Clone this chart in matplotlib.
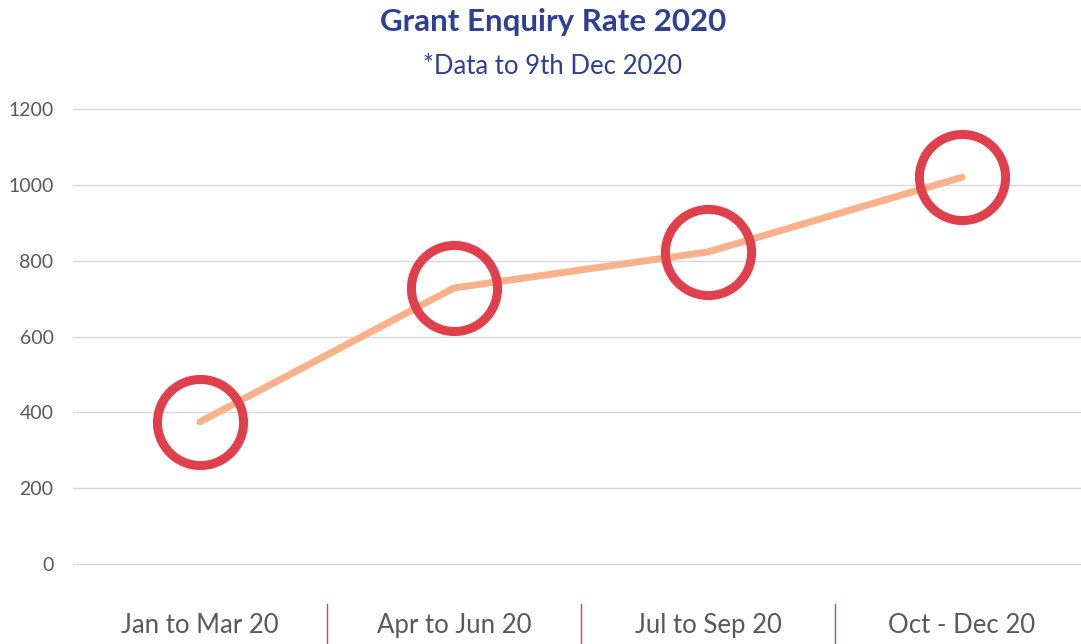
import matplotlib.pyplot as plt
from matplotlib.transforms import blended_transform_factory

# Data
quarters = ["Jan to Mar 20", "Apr to Jun 20", "Jul to Sep 20", "Oct - Dec 20"]
enquiries = [375, 728, 823, 1020]
y_ticks = [0, 200, 400, 600, 800, 1000, 1200]

plt.rcParams["font.family"] = ["Lato", "DejaVu Sans"]

W, H = 1081, 644
fig = plt.figure(figsize=(W / 100, H / 100), dpi=100)
# axes box in pixel terms: left 73, right 1089, top 109 (1200), bottom 564 (0)
ax = fig.add_axes([73 / W, (H - 564) / H, 1016 / W, 455 / H])

x = list(range(len(quarters)))
ax.plot(x, enquiries, color="#F8B18A", linewidth=5, solid_capstyle="round", zorder=3)
ax.plot(x, enquiries, linestyle="none", marker="o", markersize=62,
        markerfacecolor="none", markeredgecolor="#E0404C", markeredgewidth=6.5, zorder=4)

ax.set_xlim(-0.5, 3.5)
ax.set_ylim(0, 1200)
ax.set_yticks(y_ticks)
ax.set_xticks(x)
ax.set_xticklabels(quarters)
for yv in y_ticks:
    ax.axhline(yv, color="#D9D9D9", linewidth=1, zorder=0, clip_on=False)
for s in ax.spines.values():
    s.set_visible(False)
ax.tick_params(axis="y", length=0, pad=14, labelsize=14, labelcolor="#595959")
ax.tick_params(axis="x", length=0, pad=35, labelsize=18.5, labelcolor="#595959")

# red category dividers below the axis
trans = blended_transform_factory(ax.transData, ax.transAxes)
for xd in [0.5, 1.5, 2.5]:
    ax.plot([xd, xd], [-40 / 455, -82 / 455], color="#E0404C", linewidth=1,
            transform=trans, clip_on=False)

fig.text(553 / W, 1 - 22 / H, "Grant Enquiry Rate 2020", ha="center", va="center",
         fontsize=22.5, fontweight="bold", color="#2E3F96")
fig.text(553 / W, 1 - 66 / H, "*Data to 9th Dec 2020", ha="center", va="center",
         fontsize=18.5, color="#2E3F96")

fig.savefig("out.png", dpi=100)
